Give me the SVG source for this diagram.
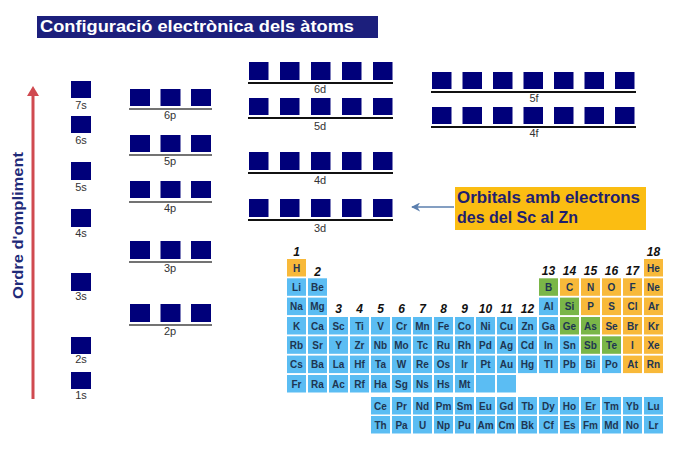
<svg xmlns="http://www.w3.org/2000/svg" width="683" height="458" viewBox="0 0 683 458">
<style>
.sq{fill:#00007a}
.ln{stroke:#111;stroke-width:2}
.lp{stroke:#444;stroke-width:1.6}
.ol{font-family:"Liberation Sans",Arial,sans-serif;font-size:11px;fill:#333;text-anchor:middle}
.b{fill:#5bbdf3}.o{fill:#f8b93a}.g{fill:#7ab648}
.c text{font-family:"Liberation Sans",Arial,sans-serif;font-weight:bold;font-size:10px;text-anchor:middle;fill:#1e3552}
.gn{font-family:"Liberation Sans",Arial,sans-serif;font-weight:bold;font-style:italic;font-size:12px;fill:#111;text-anchor:middle}
</style>
<defs>
<marker id="ah" viewBox="0 0 10 10" refX="9" refY="5" markerWidth="9" markerHeight="9" orient="auto" markerUnits="userSpaceOnUse"><path d="M10,5 L0,0 L3,5 L0,10 Z" fill="#5b7fae"/></marker>
</defs>
<rect width="683" height="458" fill="#fff"/>
<g id="title"><rect x="37" y="16" width="341" height="22" fill="#1c1f7c"/><text x="40" y="31.5" font-family="'Liberation Sans',Arial,sans-serif" font-weight="bold" font-size="16.5" fill="#fff" textLength="314" lengthAdjust="spacingAndGlyphs">Configuració electrònica dels àtoms</text></g>
<g id="order-arrow"><line x1="33" y1="399" x2="33" y2="95" stroke="#d04a50" stroke-width="3"/><path d="M33,86 L39,96 L27,96 Z" fill="#d04a50"/>
<text transform="translate(23,225.5) rotate(-90)" text-anchor="middle" font-family="'Liberation Sans',Arial,sans-serif" font-weight="bold" font-size="15.5" fill="#1f2a78" textLength="147" lengthAdjust="spacingAndGlyphs">Ordre d'ompliment</text></g>
<g id="s-orbitals">
<rect class="sq" x="71" y="81" width="20" height="17"/><text class="ol" x="81" y="109">7s</text>
<rect class="sq" x="71" y="116" width="20" height="17"/><text class="ol" x="81" y="144">6s</text>
<rect class="sq" x="71" y="162" width="20" height="18"/><text class="ol" x="81" y="191">5s</text>
<rect class="sq" x="71" y="209" width="20" height="18"/><text class="ol" x="81" y="237">4s</text>
<rect class="sq" x="71" y="273" width="20" height="18"/><text class="ol" x="81" y="300">3s</text>
<rect class="sq" x="71" y="337" width="20" height="17"/><text class="ol" x="81" y="363">2s</text>
<rect class="sq" x="71" y="372" width="20" height="17"/><text class="ol" x="81" y="399">1s</text>
</g>
<g id="p-orbitals">
<g id="p6"><rect class="sq" x="130" y="89" width="20" height="17"/><rect class="sq" x="160.5" y="89" width="20" height="17"/><rect class="sq" x="191" y="89" width="20" height="17"/><line class="lp" x1="129" y1="109" x2="212" y2="109"/><text class="ol" x="170" y="119">6p</text></g>
<g id="p5"><rect class="sq" x="130" y="135" width="20" height="17"/><rect class="sq" x="160.5" y="135" width="20" height="17"/><rect class="sq" x="191" y="135" width="20" height="17"/><line class="lp" x1="129" y1="155" x2="212" y2="155"/><text class="ol" x="170" y="165">5p</text></g>
<g id="p4"><rect class="sq" x="130" y="181" width="20" height="17"/><rect class="sq" x="160.5" y="181" width="20" height="17"/><rect class="sq" x="191" y="181" width="20" height="17"/><line class="lp" x1="129" y1="202" x2="212" y2="202"/><text class="ol" x="170" y="212">4p</text></g>
<g id="p3"><rect class="sq" x="130" y="241" width="20" height="18"/><rect class="sq" x="160.5" y="241" width="20" height="18"/><rect class="sq" x="191" y="241" width="20" height="18"/><line class="lp" x1="129" y1="262" x2="212" y2="262"/><text class="ol" x="170" y="272">3p</text></g>
<g id="p2"><rect class="sq" x="130" y="304" width="20" height="18"/><rect class="sq" x="160.5" y="304" width="20" height="18"/><rect class="sq" x="191" y="304" width="20" height="18"/><line class="lp" x1="129" y1="325" x2="212" y2="325"/><text class="ol" x="170" y="335">2p</text></g>
</g>
<g id="d-orbitals">
<g id="d6"><rect class="sq" x="249" y="62" width="19.5" height="18"/><rect class="sq" x="280" y="62" width="19.5" height="18"/><rect class="sq" x="311" y="62" width="19.5" height="18"/><rect class="sq" x="342" y="62" width="19.5" height="18"/><rect class="sq" x="373" y="62" width="19.5" height="18"/><line class="ln" x1="248" y1="83" x2="393" y2="83"/><text class="ol" x="320" y="93">6d</text></g>
<g id="d5"><rect class="sq" x="249" y="98" width="19.5" height="17"/><rect class="sq" x="280" y="98" width="19.5" height="17"/><rect class="sq" x="311" y="98" width="19.5" height="17"/><rect class="sq" x="342" y="98" width="19.5" height="17"/><rect class="sq" x="373" y="98" width="19.5" height="17"/><line class="ln" x1="248" y1="118" x2="393" y2="118"/><text class="ol" x="320" y="130">5d</text></g>
<g id="d4"><rect class="sq" x="249" y="152" width="19.5" height="18"/><rect class="sq" x="280" y="152" width="19.5" height="18"/><rect class="sq" x="311" y="152" width="19.5" height="18"/><rect class="sq" x="342" y="152" width="19.5" height="18"/><rect class="sq" x="373" y="152" width="19.5" height="18"/><line class="ln" x1="248" y1="173" x2="393" y2="173"/><text class="ol" x="320" y="184">4d</text></g>
<g id="d3"><rect class="sq" x="249" y="199" width="19.5" height="18"/><rect class="sq" x="280" y="199" width="19.5" height="18"/><rect class="sq" x="311" y="199" width="19.5" height="18"/><rect class="sq" x="342" y="199" width="19.5" height="18"/><rect class="sq" x="373" y="199" width="19.5" height="18"/><line class="ln" x1="248" y1="220" x2="393" y2="220"/><text class="ol" x="320" y="232">3d</text></g>
</g>
<g id="f-orbitals">
<g id="f5"><rect class="sq" x="432" y="72" width="19.5" height="17"/><rect class="sq" x="462.5" y="72" width="19.5" height="17"/><rect class="sq" x="493" y="72" width="19.5" height="17"/><rect class="sq" x="523.5" y="72" width="19.5" height="17"/><rect class="sq" x="554" y="72" width="19.5" height="17"/><rect class="sq" x="584.5" y="72" width="19.5" height="17"/><rect class="sq" x="615" y="72" width="19.5" height="17"/><line class="ln" x1="431" y1="92" x2="636" y2="92"/><text class="ol" x="534" y="102">5f</text></g>
<g id="f4"><rect class="sq" x="432" y="107" width="19.5" height="17"/><rect class="sq" x="462.5" y="107" width="19.5" height="17"/><rect class="sq" x="493" y="107" width="19.5" height="17"/><rect class="sq" x="523.5" y="107" width="19.5" height="17"/><rect class="sq" x="554" y="107" width="19.5" height="17"/><rect class="sq" x="584.5" y="107" width="19.5" height="17"/><rect class="sq" x="615" y="107" width="19.5" height="17"/><line class="ln" x1="431" y1="127" x2="636" y2="127"/><text class="ol" x="534" y="137">4f</text></g>
</g>
<g id="connectors"><line x1="454" y1="207" x2="412" y2="207" stroke="#5b7fae" stroke-width="1.5" marker-end="url(#ah)"/></g>
<g id="callout"><rect x="455" y="187" width="191" height="43" fill="#fbbd12"/>
<text font-family="'Liberation Sans',Arial,sans-serif" font-weight="bold" font-size="16" fill="#1f1f6e"><tspan x="457" y="202.5" textLength="183" lengthAdjust="spacingAndGlyphs">Orbitals amb electrons</tspan><tspan x="457" y="222.5">des del Sc al Zn</tspan></text></g>
<g id="periodic-table">
<g id="group-numbers">
<text class="gn" x="296.5" y="256">1</text><text class="gn" x="317.5" y="276">2</text>
<text class="gn" x="338.5" y="313">3</text><text class="gn" x="359.5" y="313">4</text><text class="gn" x="380.5" y="313">5</text><text class="gn" x="401.5" y="313">6</text><text class="gn" x="422.5" y="313">7</text><text class="gn" x="443.5" y="313">8</text><text class="gn" x="464.5" y="313">9</text><text class="gn" x="485.5" y="313">10</text><text class="gn" x="506.5" y="313">11</text><text class="gn" x="527.5" y="313">12</text>
<text class="gn" x="548.5" y="275">13</text><text class="gn" x="569.5" y="275">14</text><text class="gn" x="590.5" y="275">15</text><text class="gn" x="611.5" y="275">16</text><text class="gn" x="632.5" y="275">17</text><text class="gn" x="653.5" y="256">18</text>
</g>
<g class="c" id="row1">
<rect class="o" x="287" y="259" width="19" height="17.5"/><text x="296.5" y="271.5">H</text>
<rect class="o" x="644" y="259" width="19" height="17.5"/><text x="653.5" y="271.5">He</text>
</g>
<g class="c" id="row2">
<rect class="b" x="287" y="278.3" width="19" height="17.5"/><text x="296.5" y="290.8">Li</text>
<rect class="b" x="308" y="278.3" width="19" height="17.5"/><text x="317.5" y="290.8">Be</text>
<rect class="g" x="539" y="278.3" width="19" height="17.5"/><text x="548.5" y="290.8">B</text>
<rect class="o" x="560" y="278.3" width="19" height="17.5"/><text x="569.5" y="290.8">C</text>
<rect class="o" x="581" y="278.3" width="19" height="17.5"/><text x="590.5" y="290.8">N</text>
<rect class="o" x="602" y="278.3" width="19" height="17.5"/><text x="611.5" y="290.8">O</text>
<rect class="o" x="623" y="278.3" width="19" height="17.5"/><text x="632.5" y="290.8">F</text>
<rect class="o" x="644" y="278.3" width="19" height="17.5"/><text x="653.5" y="290.8">Ne</text>
</g>
<g class="c" id="row3">
<rect class="b" x="287" y="297.6" width="19" height="17.5"/><text x="296.5" y="310.1">Na</text>
<rect class="b" x="308" y="297.6" width="19" height="17.5"/><text x="317.5" y="310.1">Mg</text>
<rect class="b" x="539" y="297.6" width="19" height="17.5"/><text x="548.5" y="310.1">Al</text>
<rect class="g" x="560" y="297.6" width="19" height="17.5"/><text x="569.5" y="310.1">Si</text>
<rect class="o" x="581" y="297.6" width="19" height="17.5"/><text x="590.5" y="310.1">P</text>
<rect class="o" x="602" y="297.6" width="19" height="17.5"/><text x="611.5" y="310.1">S</text>
<rect class="o" x="623" y="297.6" width="19" height="17.5"/><text x="632.5" y="310.1">Cl</text>
<rect class="o" x="644" y="297.6" width="19" height="17.5"/><text x="653.5" y="310.1">Ar</text>
</g>
<g class="c" id="row4">
<rect class="b" x="287" y="317" width="19" height="17.5"/><text x="296.5" y="329.5">K</text>
<rect class="b" x="308" y="317" width="19" height="17.5"/><text x="317.5" y="329.5">Ca</text>
<rect class="b" x="329" y="317" width="19" height="17.5"/><text x="338.5" y="329.5">Sc</text>
<rect class="b" x="350" y="317" width="19" height="17.5"/><text x="359.5" y="329.5">Ti</text>
<rect class="b" x="371" y="317" width="19" height="17.5"/><text x="380.5" y="329.5">V</text>
<rect class="b" x="392" y="317" width="19" height="17.5"/><text x="401.5" y="329.5">Cr</text>
<rect class="b" x="413" y="317" width="19" height="17.5"/><text x="422.5" y="329.5">Mn</text>
<rect class="b" x="434" y="317" width="19" height="17.5"/><text x="443.5" y="329.5">Fe</text>
<rect class="b" x="455" y="317" width="19" height="17.5"/><text x="464.5" y="329.5">Co</text>
<rect class="b" x="476" y="317" width="19" height="17.5"/><text x="485.5" y="329.5">Ni</text>
<rect class="b" x="497" y="317" width="19" height="17.5"/><text x="506.5" y="329.5">Cu</text>
<rect class="b" x="518" y="317" width="19" height="17.5"/><text x="527.5" y="329.5">Zn</text>
<rect class="b" x="539" y="317" width="19" height="17.5"/><text x="548.5" y="329.5">Ga</text>
<rect class="g" x="560" y="317" width="19" height="17.5"/><text x="569.5" y="329.5">Ge</text>
<rect class="g" x="581" y="317" width="19" height="17.5"/><text x="590.5" y="329.5">As</text>
<rect class="o" x="602" y="317" width="19" height="17.5"/><text x="611.5" y="329.5">Se</text>
<rect class="o" x="623" y="317" width="19" height="17.5"/><text x="632.5" y="329.5">Br</text>
<rect class="o" x="644" y="317" width="19" height="17.5"/><text x="653.5" y="329.5">Kr</text>
</g>
<g class="c" id="row5">
<rect class="b" x="287" y="336.3" width="19" height="17.5"/><text x="296.5" y="348.8">Rb</text>
<rect class="b" x="308" y="336.3" width="19" height="17.5"/><text x="317.5" y="348.8">Sr</text>
<rect class="b" x="329" y="336.3" width="19" height="17.5"/><text x="338.5" y="348.8">Y</text>
<rect class="b" x="350" y="336.3" width="19" height="17.5"/><text x="359.5" y="348.8">Zr</text>
<rect class="b" x="371" y="336.3" width="19" height="17.5"/><text x="380.5" y="348.8">Nb</text>
<rect class="b" x="392" y="336.3" width="19" height="17.5"/><text x="401.5" y="348.8">Mo</text>
<rect class="b" x="413" y="336.3" width="19" height="17.5"/><text x="422.5" y="348.8">Tc</text>
<rect class="b" x="434" y="336.3" width="19" height="17.5"/><text x="443.5" y="348.8">Ru</text>
<rect class="b" x="455" y="336.3" width="19" height="17.5"/><text x="464.5" y="348.8">Rh</text>
<rect class="b" x="476" y="336.3" width="19" height="17.5"/><text x="485.5" y="348.8">Pd</text>
<rect class="b" x="497" y="336.3" width="19" height="17.5"/><text x="506.5" y="348.8">Ag</text>
<rect class="b" x="518" y="336.3" width="19" height="17.5"/><text x="527.5" y="348.8">Cd</text>
<rect class="b" x="539" y="336.3" width="19" height="17.5"/><text x="548.5" y="348.8">In</text>
<rect class="b" x="560" y="336.3" width="19" height="17.5"/><text x="569.5" y="348.8">Sn</text>
<rect class="g" x="581" y="336.3" width="19" height="17.5"/><text x="590.5" y="348.8">Sb</text>
<rect class="g" x="602" y="336.3" width="19" height="17.5"/><text x="611.5" y="348.8">Te</text>
<rect class="o" x="623" y="336.3" width="19" height="17.5"/><text x="632.5" y="348.8">I</text>
<rect class="o" x="644" y="336.3" width="19" height="17.5"/><text x="653.5" y="348.8">Xe</text>
</g>
<g class="c" id="row6">
<rect class="b" x="287" y="355.6" width="19" height="17.5"/><text x="296.5" y="368.1">Cs</text>
<rect class="b" x="308" y="355.6" width="19" height="17.5"/><text x="317.5" y="368.1">Ba</text>
<rect class="b" x="329" y="355.6" width="19" height="17.5"/><text x="338.5" y="368.1">La</text>
<rect class="b" x="350" y="355.6" width="19" height="17.5"/><text x="359.5" y="368.1">Hf</text>
<rect class="b" x="371" y="355.6" width="19" height="17.5"/><text x="380.5" y="368.1">Ta</text>
<rect class="b" x="392" y="355.6" width="19" height="17.5"/><text x="401.5" y="368.1">W</text>
<rect class="b" x="413" y="355.6" width="19" height="17.5"/><text x="422.5" y="368.1">Re</text>
<rect class="b" x="434" y="355.6" width="19" height="17.5"/><text x="443.5" y="368.1">Os</text>
<rect class="b" x="455" y="355.6" width="19" height="17.5"/><text x="464.5" y="368.1">Ir</text>
<rect class="b" x="476" y="355.6" width="19" height="17.5"/><text x="485.5" y="368.1">Pt</text>
<rect class="b" x="497" y="355.6" width="19" height="17.5"/><text x="506.5" y="368.1">Au</text>
<rect class="b" x="518" y="355.6" width="19" height="17.5"/><text x="527.5" y="368.1">Hg</text>
<rect class="b" x="539" y="355.6" width="19" height="17.5"/><text x="548.5" y="368.1">Tl</text>
<rect class="b" x="560" y="355.6" width="19" height="17.5"/><text x="569.5" y="368.1">Pb</text>
<rect class="b" x="581" y="355.6" width="19" height="17.5"/><text x="590.5" y="368.1">Bi</text>
<rect class="b" x="602" y="355.6" width="19" height="17.5"/><text x="611.5" y="368.1">Po</text>
<rect class="o" x="623" y="355.6" width="19" height="17.5"/><text x="632.5" y="368.1">At</text>
<rect class="o" x="644" y="355.6" width="19" height="17.5"/><text x="653.5" y="368.1">Rn</text>
</g>
<g class="c" id="row7">
<rect class="b" x="287" y="375" width="19" height="17.5"/><text x="296.5" y="387.5">Fr</text>
<rect class="b" x="308" y="375" width="19" height="17.5"/><text x="317.5" y="387.5">Ra</text>
<rect class="b" x="329" y="375" width="19" height="17.5"/><text x="338.5" y="387.5">Ac</text>
<rect class="b" x="350" y="375" width="19" height="17.5"/><text x="359.5" y="387.5">Rf</text>
<rect class="b" x="371" y="375" width="19" height="17.5"/><text x="380.5" y="387.5">Ha</text>
<rect class="b" x="392" y="375" width="19" height="17.5"/><text x="401.5" y="387.5">Sg</text>
<rect class="b" x="413" y="375" width="19" height="17.5"/><text x="422.5" y="387.5">Ns</text>
<rect class="b" x="434" y="375" width="19" height="17.5"/><text x="443.5" y="387.5">Hs</text>
<rect class="b" x="455" y="375" width="19" height="17.5"/><text x="464.5" y="387.5">Mt</text>
<rect class="b" x="476" y="375" width="19" height="17.5"/>
<rect class="b" x="497" y="375" width="19" height="17.5"/>
</g>
<g class="c" id="lanthanides">
<rect class="b" x="371" y="397" width="19" height="17.5"/><text x="380.5" y="409.5">Ce</text>
<rect class="b" x="392" y="397" width="19" height="17.5"/><text x="401.5" y="409.5">Pr</text>
<rect class="b" x="413" y="397" width="19" height="17.5"/><text x="422.5" y="409.5">Nd</text>
<rect class="b" x="434" y="397" width="19" height="17.5"/><text x="443.5" y="409.5">Pm</text>
<rect class="b" x="455" y="397" width="19" height="17.5"/><text x="464.5" y="409.5">Sm</text>
<rect class="b" x="476" y="397" width="19" height="17.5"/><text x="485.5" y="409.5">Eu</text>
<rect class="b" x="497" y="397" width="19" height="17.5"/><text x="506.5" y="409.5">Gd</text>
<rect class="b" x="518" y="397" width="19" height="17.5"/><text x="527.5" y="409.5">Tb</text>
<rect class="b" x="539" y="397" width="19" height="17.5"/><text x="548.5" y="409.5">Dy</text>
<rect class="b" x="560" y="397" width="19" height="17.5"/><text x="569.5" y="409.5">Ho</text>
<rect class="b" x="581" y="397" width="19" height="17.5"/><text x="590.5" y="409.5">Er</text>
<rect class="b" x="602" y="397" width="19" height="17.5"/><text x="611.5" y="409.5">Tm</text>
<rect class="b" x="623" y="397" width="19" height="17.5"/><text x="632.5" y="409.5">Yb</text>
<rect class="b" x="644" y="397" width="19" height="17.5"/><text x="653.5" y="409.5">Lu</text>
</g>
<g class="c" id="actinides">
<rect class="b" x="371" y="416" width="19" height="17.5"/><text x="380.5" y="428.5">Th</text>
<rect class="b" x="392" y="416" width="19" height="17.5"/><text x="401.5" y="428.5">Pa</text>
<rect class="b" x="413" y="416" width="19" height="17.5"/><text x="422.5" y="428.5">U</text>
<rect class="b" x="434" y="416" width="19" height="17.5"/><text x="443.5" y="428.5">Np</text>
<rect class="b" x="455" y="416" width="19" height="17.5"/><text x="464.5" y="428.5">Pu</text>
<rect class="b" x="476" y="416" width="19" height="17.5"/><text x="485.5" y="428.5">Am</text>
<rect class="b" x="497" y="416" width="19" height="17.5"/><text x="506.5" y="428.5">Cm</text>
<rect class="b" x="518" y="416" width="19" height="17.5"/><text x="527.5" y="428.5">Bk</text>
<rect class="b" x="539" y="416" width="19" height="17.5"/><text x="548.5" y="428.5">Cf</text>
<rect class="b" x="560" y="416" width="19" height="17.5"/><text x="569.5" y="428.5">Es</text>
<rect class="b" x="581" y="416" width="19" height="17.5"/><text x="590.5" y="428.5">Fm</text>
<rect class="b" x="602" y="416" width="19" height="17.5"/><text x="611.5" y="428.5">Md</text>
<rect class="b" x="623" y="416" width="19" height="17.5"/><text x="632.5" y="428.5">No</text>
<rect class="b" x="644" y="416" width="19" height="17.5"/><text x="653.5" y="428.5">Lr</text>
</g>
</g>
</svg>
